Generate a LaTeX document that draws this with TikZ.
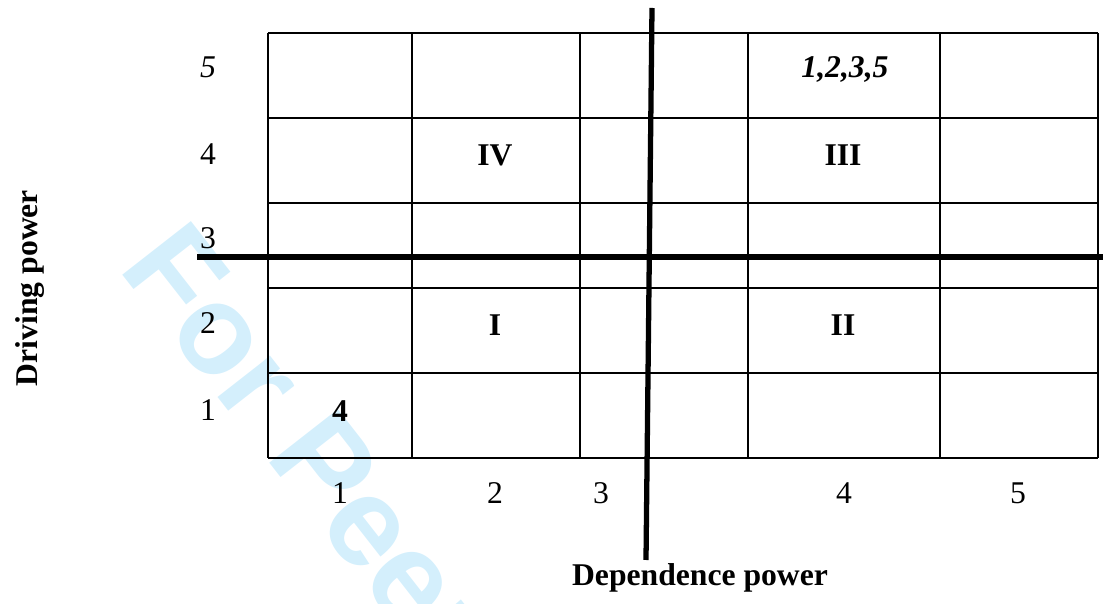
\documentclass[tikz,border=0pt]{standalone}
\usepackage{fontspec}
\setmainfont{Liberation Serif}
\newfontfamily\wmfont{Liberation Sans}
\definecolor{wmblue}{RGB}{212,239,252}

\begin{document}
\begin{tikzpicture}[
    x=0.01cm, y=-0.01cm,
    every node/.style={inner sep=0pt, font=\fontsize{9}{11}\selectfont},
    gridline/.style={draw=black, line width=0.6pt},
    axisline/.style={draw=black, line width=1.5pt},
    cell/.style={font=\fontsize{9}{11}\selectfont\bfseries},
    axtitle/.style={font=\fontsize{9}{11}\selectfont\bfseries}
]
    \useasboundingbox (0,0) rectangle (1103,604);

    % Watermark (behind everything)
    \node[anchor=base west, rotate=-52, text=wmblue, font=\fontsize{36}{40}\selectfont\wmfont\bfseries] (wm) at (117,268) {For Peer Review};

    % Grid
    \foreach \y in {33,118,203,288,373,458}
        \draw[gridline] (268,\y) -- (1098,\y);
    \foreach \x in {268,412,580,748,940,1098}
        \draw[gridline] (\x,33) -- (\x,458);

    % Quadrant axes
    \draw[axisline] (197,257) -- (1103,257);
    \draw[axisline] (652,8) -- (646,560);

    % Driving power levels
    \node (y5) at (208,67) {\itshape 5};
    \node (y4) at (208,154) {4};
    \node (y3) at (208,238) {3};
    \node (y2) at (208,323) {2};
    \node (y1) at (208,410) {1};

    % Dependence power levels
    \node (x1) at (340,493) {1};
    \node (x2) at (495,493) {2};
    \node (x3) at (601,493) {3};
    \node (x4) at (844,493) {4};
    \node (x5) at (1018,493) {5};

    % Cell contents
    \node[cell] (ent) at (845,69) {\itshape 1,2,3,5};
    \node[cell] (q4) at (495,155) {IV};
    \node[cell] (q3) at (843,155) {III};
    \node[cell] (q1) at (495,325) {I};
    \node[cell] (q2) at (843,325) {II};
    \node[cell] (e4) at (340,411) {4};

    % Axis titles
    \node[axtitle, rotate=90] (drv) at (30,288) {Driving power};
    \node[axtitle] (dep) at (700,578) {Dependence power};
\end{tikzpicture}
\end{document}
